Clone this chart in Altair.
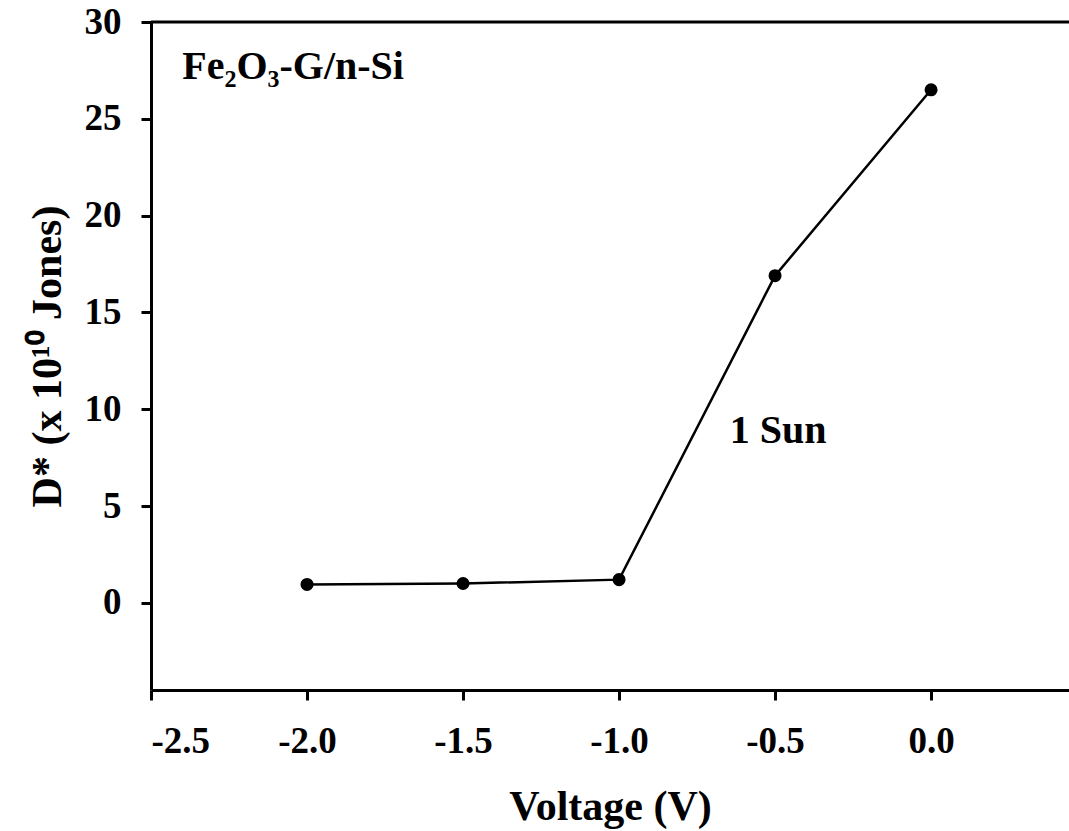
import altair as alt
import pandas as pd

voltage = [-2.0, -1.5, -1.0, -0.5, 0.0]
dstar = [0.95, 1.0, 1.2, 16.9, 26.5]

df = pd.DataFrame({"Voltage": voltage, "D": dstar})

FONT = "Liberation Serif"

xscale = alt.Scale(domain=[-2.5, 0.442], nice=False, zero=False)
yscale = alt.Scale(domain=[-4.5, 30], nice=False, zero=False)

x = alt.X("Voltage:Q", scale=xscale,
          axis=alt.Axis(title="Voltage (V)", values=[-2.5, -2.0, -1.5, -1.0, -0.5, 0.0],
                        labelExpr="replace(format(datum.value, '.1f'), '\u2212', '-')",
                        grid=False, titlePadding=27, labelPadding=23))
y = alt.Y("D:Q", scale=yscale,
          axis=alt.Axis(title="D* (x 10\u00b9\u2070 Jones)", values=[0, 5, 10, 15, 20, 25, 30],
                        grid=False, titlePadding=15, labelPadding=20))

line = alt.Chart(df).mark_line(color="black", strokeWidth=2.5).encode(x=x, y=y)
pts = alt.Chart(df).mark_point(filled=True, color="black", size=170, opacity=1).encode(x=x, y=y)

top = alt.Chart(pd.DataFrame({"y": [30]})).mark_rule(color="black", strokeWidth=3).encode(y=alt.Y("y:Q", scale=yscale))

labels = pd.DataFrame({"x": [-2.40, -0.645], "y": [27.05, 8.27], "t": ["Fe\u2082O\u2083-G/n-Si", "1 Sun"],
                       "s": [40, 40]})
txt = alt.Chart(labels).mark_text(align="left", baseline="alphabetic", font=FONT, fontWeight="bold",
                                  fontSize=40, color="black").encode(
    x=alt.X("x:Q", scale=xscale), y=alt.Y("y:Q", scale=yscale), text="t:N")

chart = alt.layer(top, line, pts, txt).properties(
    width=918, height=668,
    autosize=alt.AutoSizeParams(type="none"),
    padding={"left": 151, "top": 22, "right": 0, "bottom": 141},
).configure_view(strokeWidth=0).configure_axis(
    labelFont=FONT, labelFontWeight="bold", labelFontSize=37, labelColor="black",
    titleFont=FONT, titleFontWeight="bold", titleFontSize=42, titleColor="black",
    domainColor="black", domainWidth=3, tickColor="black", tickWidth=3, tickSize=10,
)

chart.save("out.html", embed_options={"renderer": "svg", "actions": False})
